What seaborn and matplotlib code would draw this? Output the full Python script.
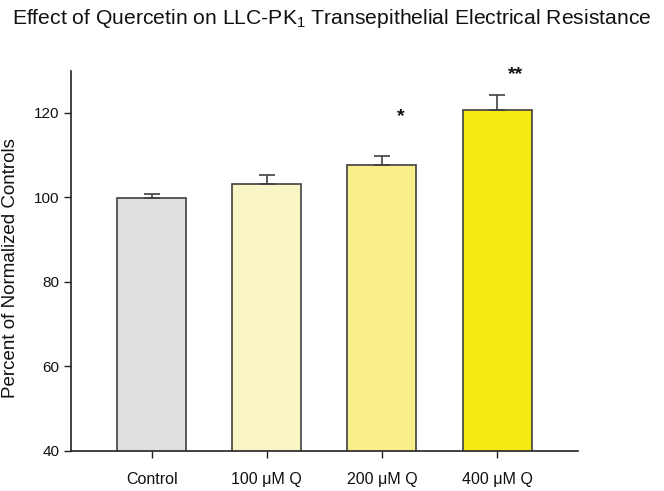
import matplotlib
matplotlib.use("Agg")
import matplotlib.pyplot as plt
import seaborn as sns
import pandas as pd

categories = ["Control", "100 μM Q", "200 μM Q", "400 μM Q"]
values = [99.9, 103.3, 107.7, 120.8]
errors = [1.0, 1.9, 2.0, 3.4]
colors = ["#E0E0E0", "#FAF5C6", "#F9EF8A", "#F5E914"]
sig_labels = ["", "", "*", "**"]
sig_heights = [0, 0, 119.2, 129.0]

sns.set_style("ticks")
plt.rcParams["font.family"] = ["Liberation Sans", "DejaVu Sans"]
plt.rcParams["mathtext.fontset"] = "custom"
plt.rcParams["mathtext.rm"] = "Liberation Sans"
plt.rcParams["mathtext.it"] = "Liberation Sans"

df = pd.DataFrame({"group": categories, "value": values})

fig = plt.figure(figsize=(6.64, 4.91), dpi=100)
ax = fig.add_axes([0.107, 0.0815, 0.763, 0.7745])

sns.barplot(data=df, x="group", y="value", hue="group", palette=colors,
            order=categories, width=0.6, edgecolor="#404040", linewidth=1.2,
            saturation=1, errorbar=None, legend=False, ax=ax)

ax.errorbar(range(len(categories)), values, yerr=[[0] * len(errors), errors],
            fmt="none", ecolor="#404040", elinewidth=1.2, capsize=6, capthick=1.2)

for i, (lab, h) in enumerate(zip(sig_labels, sig_heights)):
    if lab:
        ax.text(i + 0.16, h, lab, ha="center", va="center", fontsize=14,
                fontweight="bold", color="#111111")

ax.set_ylim(40, 130)
ax.set_xlim(-0.7, 3.7)
ax.set_yticks([40, 60, 80, 100, 120])
ax.set_xlabel("")
ax.set_ylabel("Percent of Normalized Controls", fontsize=13.5, color="#111111")
ax.yaxis.set_label_coords(-0.103, 0.482)
ax.tick_params(axis="y", labelsize=11, length=5, width=1, color="#222222",
               direction="out", labelcolor="#111111")
ax.tick_params(axis="x", labelsize=11.5, length=5, width=1, color="#222222",
               direction="out", labelcolor="#111111", pad=10)
for s in ["left", "bottom"]:
    ax.spines[s].set_color("#222222")
    ax.spines[s].set_linewidth(1.2)
sns.despine(ax=ax)

fig.suptitle("Effect of Quercetin on LLC-PK$_1$ Transepithelial Electrical Resistance",
             x=0.5, y=0.985, fontsize=15.2, color="#111111")

fig.savefig("out.png", dpi=100)
